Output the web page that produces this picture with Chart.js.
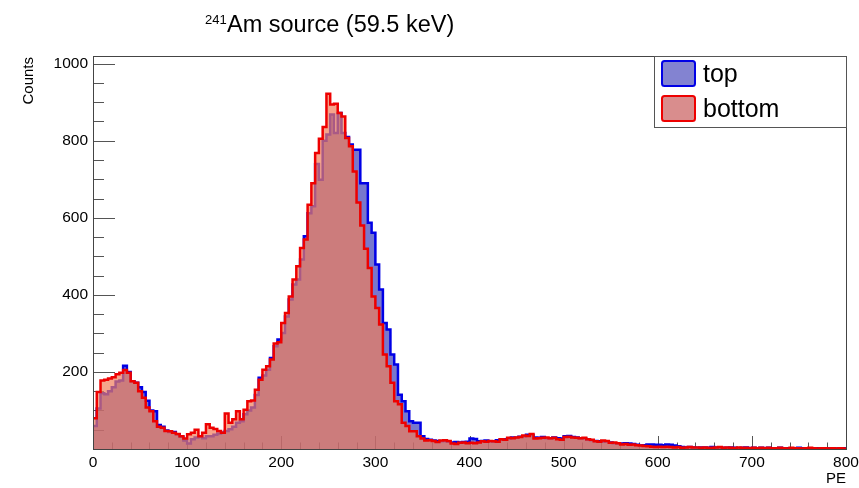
<!DOCTYPE html>
<html><head><meta charset="utf-8">
<script src="https://cdn.jsdelivr.net/npm/chart.js@4.4.1/dist/chart.umd.min.js"></script>
<style>html,body{margin:0;padding:0;background:#fff;overflow:hidden}#wrap{position:relative;width:859px;height:488px}</style>
</head><body><div id="wrap"><canvas id="c" width="859" height="488"></canvas></div>
<script>
// ---------- data ----------
const titleSup = '241';
const titleMain = 'Am source (59.5 keV)';
const xAxisTitle = 'PE';
const yAxisTitle = 'Counts';
const seriesNames = ['top', 'bottom'];
const binWidthPE = 4;   // 200 bins from 0 to 800 PE

const topCounts = [
  60,105,145,142,150,160,175,178,216,200,
  176,172,160,148,125,100,98,62,58,48,
  44,44,38,32,22,14,25,30,33,28,
  33,33,37,40,42,47,51,58,68,72,
  90,100,108,140,185,191,206,236,267,284,
  301,344,388,427,440,492,552,612,630,740,
  699,800,816,868,820,872,820,810,790,777,
  777,690,690,587,561,479,414,327,310,245,
  219,141,124,98,72,68,68,33,26,24,
  22,21,20,21,19,17,18,17,18,19,
  27,26,20,21,22,20,19,23,24,25,
  27,30,29,32,33,37,36,30,29,31,
  28,27,30,28,27,33,34,31,30,27,
  27,24,23,21,20,19,20,17,15,14,
  14,15,14,13,11,9,10,12,12,11,
  11,10,12,11,9,7,5,4,5,4,
  3,4,4,3,5,3,4,3,3,4,
  3,2,3,4,2,3,2,3,2,3,
  2,2,3,2,2,1,2,3,2,2,
  1,2,2,1,2,1,2,1,1,2
];
const bottomCounts = [
  80,148,178,180,183,186,194,198,205,198,
  176,172,150,133,108,98,72,58,55,47,
  46,42,39,33,27,38,42,50,33,42,
  64,55,52,47,42,92,68,77,98,77,
  102,124,126,154,180,206,215,232,274,277,
  327,353,396,440,474,522,544,634,690,768,
  805,836,922,894,896,872,863,807,786,720,
  640,580,520,470,396,366,323,245,215,172,
  124,116,68,60,46,46,33,27,22,23,
  21,18,22,23,21,14,13,16,17,15,
  16,15,17,20,19,21,20,19,25,24,
  29,28,30,31,35,34,39,27,28,29,
  30,28,29,25,24,31,32,30,29,28,
  29,25,24,20,19,22,21,16,17,15,
  12,13,11,12,10,9,8,7,6,5,
  6,5,6,5,4,5,3,4,5,4,
  4,3,4,3,3,4,5,3,4,3,
  2,4,3,3,2,3,2,3,2,3,
  2,2,3,2,1,3,2,2,1,2,
  3,2,1,2,2,1,2,1,2,1
];
const xTickLabels = [0,100,200,300,400,500,600,700,800];
const yTickLabels = [200,400,600,800,1000];
const xMinorStep = 20;
const yMinorStep = 50;

// ---------- styling ----------
const FONT = "'Liberation Sans', Arial, Helvetica, sans-serif";
const TOP_LINE = '#0000e6', TOP_FILL = 'rgba(30,30,172,0.6)';
const BOT_LINE = '#ee0000', BOT_FILL = 'rgba(241,127,91,0.7)';

function toSteps(counts) {
  const pts = counts.map((v, i) => ({x: i * binWidthPE, y: v}));
  pts.push({x: counts.length * binWidthPE, y: counts[counts.length - 1]});
  return pts;
}

const rootStyle = {
  id: 'rootStyle',
  beforeDatasetsDraw(chart) {
    const ctx = chart.ctx, a = chart.chartArea, xs = chart.scales.x, ys = chart.scales.y;
    ctx.save();
    ctx.strokeStyle = '#555'; ctx.lineWidth = 1;
    ctx.beginPath();
    for (let v = xs.min; v <= xs.max; v += xMinorStep) {
      const px = Math.round(xs.getPixelForValue(v)) + 0.5;
      const len = (v % 100 === 0) ? 13 : 6.5;
      ctx.moveTo(px, a.bottom); ctx.lineTo(px, a.bottom - len);
    }
    for (let v = 0; v <= ys.max; v += yMinorStep) {
      const py = Math.round(ys.getPixelForValue(v)) + 0.5;
      const len = (v % 200 === 0) ? 22 : 11;
      ctx.moveTo(a.left, py); ctx.lineTo(a.left + len, py);
    }
    ctx.stroke();
    ctx.restore();
  },
  afterDatasetsDraw(chart) {
    const ctx = chart.ctx, a = chart.chartArea;
    ctx.save();
    // frame
    ctx.strokeStyle = '#444'; ctx.lineWidth = 1;
    ctx.strokeRect(Math.round(a.left) + 0.5, Math.round(a.top) + 0.5, Math.round(a.right - a.left), Math.round(a.bottom - a.top));
    // legend
    const lx = 654, ly = Math.round(a.top), lw = Math.round(a.right) - 654, lh = 71;
    ctx.fillStyle = '#fff'; ctx.fillRect(lx, ly, lw, lh);
    ctx.strokeStyle = '#555'; ctx.strokeRect(lx + 0.5, ly + 0.5, lw, lh);
    const ds = chart.data.datasets;
    ds.forEach((d, i) => {
      const sy = ly + 5 + i * 35;
      ctx.beginPath();
      ctx.roundRect(662, sy, 33, 25, 2.5);
      ctx.fillStyle = '#fff'; ctx.fill();
      ctx.fillStyle = i === 0 ? 'rgba(30,30,172,0.55)' : 'rgba(196,80,80,0.65)'; ctx.fill();
      ctx.strokeStyle = d.borderColor; ctx.lineWidth = 2; ctx.stroke();
      ctx.fillStyle = '#000';
      ctx.font = `25px ${FONT}`;
      ctx.textAlign = 'left'; ctx.textBaseline = 'alphabetic';
      ctx.fillText(d.label, 703, sy + 21);
    });
    ctx.restore();
  },
  afterDraw(chart) {
    const ctx = chart.ctx, a = chart.chartArea;
    ctx.save();
    ctx.fillStyle = '#000';
    ctx.textBaseline = 'alphabetic';
    // title
    ctx.textAlign = 'left';
    ctx.font = `13px ${FONT}`;
    ctx.fillText(titleSup, 205, 24);
    ctx.font = `23.5px ${FONT}`;
    ctx.fillText(titleMain, 227, 32);
    // x axis title
    ctx.font = `15px ${FONT}`;
    ctx.textAlign = 'right';
    ctx.fillText(xAxisTitle, a.right, 483);
    // y axis title
    ctx.translate(33, a.top + 1);
    ctx.rotate(-Math.PI / 2);
    ctx.textAlign = 'right';
    ctx.fillText(yAxisTitle, 0, 0);
    ctx.restore();
  }
};

new Chart(document.getElementById('c'), {
  type: 'line',
  data: {
    datasets: [
      {label: seriesNames[0], data: toSteps(topCounts), stepped: true, borderColor: TOP_LINE, backgroundColor: TOP_FILL,
       borderWidth: 2.5, fill: 'origin', pointRadius: 0, order: 2},
      {label: seriesNames[1], data: toSteps(bottomCounts), stepped: true, borderColor: BOT_LINE, backgroundColor: BOT_FILL,
       borderWidth: 2.5, fill: 'origin', pointRadius: 0, order: 1}
    ]
  },
  options: {
    responsive: false, animation: false, devicePixelRatio: 1,
    layout: {padding: {left: 0, right: 13, top: 56, bottom: 0}},
    plugins: {legend: {display: false}, tooltip: {enabled: false}, title: {display: false}},
    scales: {
      x: {
        type: 'linear', min: 0, max: 800,
        afterBuildTicks: s => { s.ticks = xTickLabels.map(v => ({value: v})); },
        afterFit: s => { s.height = 39; s.paddingLeft = 0; s.paddingRight = 0; },
        grid: {display: false, drawTicks: false}, border: {display: false},
        ticks: {padding: 4, color: '#000', font: {family: FONT, size: 15.5}, maxRotation: 0, autoSkip: false,
                callback: v => String(v)}
      },
      y: {
        type: 'linear', min: 0, max: 1020,
        afterBuildTicks: s => { s.ticks = yTickLabels.map(v => ({value: v})); },
        afterFit: s => { s.width = 93; s.paddingTop = 0; s.paddingBottom = 0; },
        grid: {display: false, drawTicks: false}, border: {display: false},
        ticks: {padding: 5, color: '#000', font: {family: FONT, size: 15.5}, autoSkip: false,
                callback: v => String(v)}
      }
    }
  },
  plugins: [rootStyle]
});
</script>
</body></html>
